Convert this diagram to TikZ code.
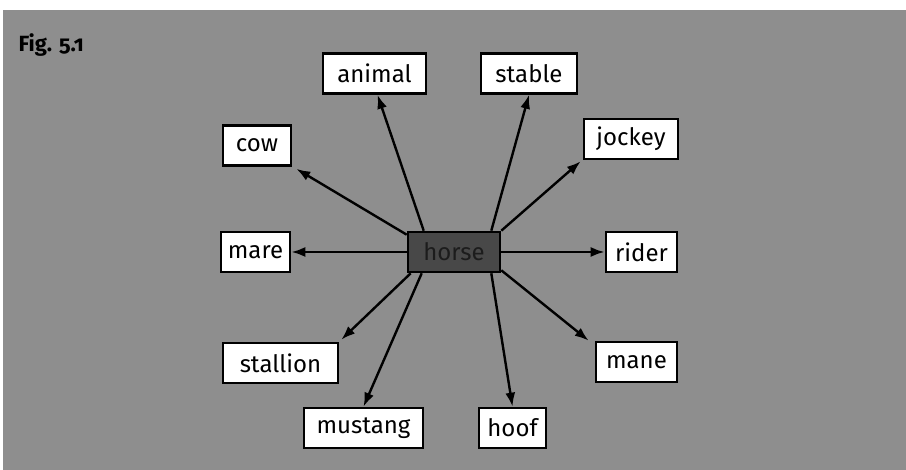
\documentclass[tikz,border=0pt]{standalone}
\usepackage{fontspec}
\setmainfont{Fira Sans}
\usetikzlibrary{arrows.meta}
\definecolor{bggray}{RGB}{142,142,142}
\definecolor{horsefill}{RGB}{72,72,72}
\definecolor{horsetext}{RGB}{28,28,28}
\begin{document}
\begin{tikzpicture}[x=1pt,y=1pt,
  word/.style={draw=black, line width=2.6pt, fill=white, minimum height=40pt,
    inner xsep=4pt, inner ysep=0pt, font=\fontsize{24}{26}\selectfont, text=black},
  hub/.style={word, fill=horsefill, text=horsetext},
  link/.style={line width=2.4pt, -{Latex[length=14pt,width=10pt]}}]
\useasboundingbox (0,0) rectangle (906,470);
\fill[bggray] (3,0) rectangle (906,460);
\node[anchor=west, font=\fontsize{22}{24}\selectfont\bfseries\addfontfeatures{Numbers=OldStyle}] (fig) at (15,425) {Fig. 5.1};
\node[hub, minimum width=92pt] (horse) at (454,218) {horse};
\node[word, minimum width=103pt] (animal) at (374.5,396.5) {animal};
\node[word, minimum width=96pt] (stable) at (529,396.5) {stable};
\node[word, minimum width=68pt] (cow) at (257,324.5) {cow};
\node[word, minimum width=94pt] (jockey) at (631,331) {jockey};
\node[word, minimum width=69pt] (mare) at (255.5,218) {mare};
\node[word, minimum width=71pt] (rider) at (641.5,218) {rider};
\node[word, minimum width=115pt] (stallion) at (280.5,107) {stallion};
\node[word, minimum width=81pt] (mane) at (636.5,108) {mane};
\node[word, minimum width=119pt] (mustang) at (363.5,42) {mustang};
\node[word, minimum width=67pt] (hoof) at (512.5,42) {hoof};
\draw[link] ([xshift=17pt]horse.north west) -- ([xshift=3pt]animal.south);
\draw[link] ([xshift=-10pt]horse.north east) -- (stable.south);
\draw[link] ([yshift=-4pt]horse.north west) -- ([xshift=4pt,yshift=-2pt]cow.south east);
\draw[link] (horse.north east) -- ([xshift=-2pt,yshift=-1pt]jockey.south west);
\draw[link] (horse.west) -- (mare.east);
\draw[link] (horse.east) -- (rider.west);
\draw[link] ([xshift=4pt]horse.south west) -- ([xshift=2pt,yshift=2pt]stallion.north east);
\draw[link] ([xshift=15pt]horse.south west) -- (mustang.north);
\draw[link] ([xshift=-10pt]horse.south east) -- (hoof.north);
\draw[link] ([yshift=3pt]horse.south east) -- ([xshift=-6pt]mane.north west);
\end{tikzpicture}
\end{document}
